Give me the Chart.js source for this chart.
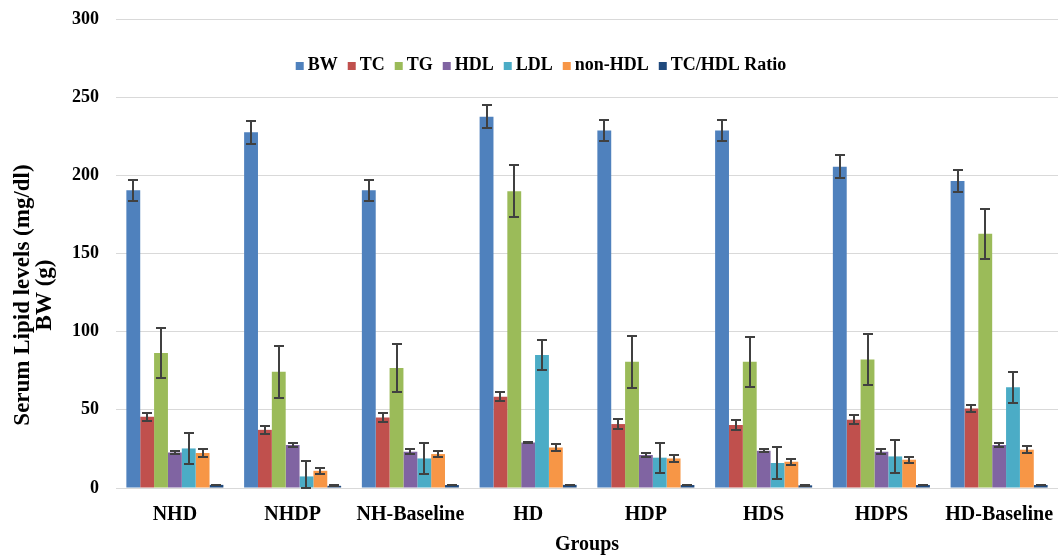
<!DOCTYPE html>
<html>
<head>
<meta charset="utf-8">
<script src="https://cdn.jsdelivr.net/npm/chart.js@4.4.0/dist/chart.umd.min.js"></script>
<style>
  html, body { margin: 0; padding: 0; background: #fff; }
  #wrap { width: 1058px; height: 557px; }
</style>
</head>
<body>
<div id="wrap"><canvas id="chart" width="1058" height="557"></canvas></div>
<script>
// Groups on the x axis
const groups = ['NHD', 'NHDP', 'NH-Baseline', 'HD', 'HDP', 'HDS', 'HDPS', 'HD-Baseline'];

// Means
const bw     = [190.5, 227.5, 190.5, 237.5, 228.7, 228.7, 205.5, 196.3];
const tc     = [45.6, 37.2, 45.1, 58.3, 40.9, 40.3, 43.6, 50.9];
const tg     = [86.4, 74.3, 76.7, 189.8, 80.7, 80.7, 82.2, 162.7];
const hdl    = [22.7, 27.5, 23.2, 29.1, 21.1, 23.8, 23.2, 27.5];
const ldl    = [25.3, 7.4, 18.9, 85.0, 19.4, 16.0, 20.2, 64.5];
const nonHdl = [22.4, 11.0, 21.7, 25.9, 18.9, 16.8, 18.1, 24.5];
const ratio  = [2.0, 1.4, 1.9, 2.0, 1.9, 1.7, 1.9, 1.9];

// Error bar half-lengths (SD)
const bwErr     = [6.8, 7.5, 6.8, 7.5, 6.8, 6.8, 7.5, 7.0];
const tcErr     = [2.6, 2.6, 2.6, 2.8, 3.0, 3.0, 2.8, 2.3];
const tgErr     = [16.0, 16.5, 15.5, 16.6, 16.6, 16.0, 16.6, 16.0];
const hdlErr    = [1.0, 1.0, 1.5, 0.6, 1.5, 1.0, 1.5, 1.0];
const ldlErr    = [10.0, 9.6, 10.0, 9.6, 9.7, 10.4, 10.5, 10.0];
const nonHdlErr = [2.3, 1.8, 2.0, 2.0, 2.2, 1.8, 2.0, 2.3];
const ratioErr  = [0.2, 0.2, 0.2, 0.2, 0.2, 0.2, 0.2, 0.2];

const yTicks = [0, 50, 100, 150, 200, 250, 300];

const FONT = "'Liberation Serif', 'Times New Roman', serif";

// Draws +/- error bars on each bar, through the y scale
const errorBars = {
    id: 'errorBars',
    afterDatasetsDraw(chart) {
        const ctx = chart.ctx;
        const y = chart.scales.y;
        ctx.save();
        ctx.strokeStyle = '#404040';
        ctx.lineWidth = 2;
        chart.data.datasets.forEach((ds, i) => {
            const meta = chart.getDatasetMeta(i);
            if (meta.hidden) return;
            meta.data.forEach((bar, j) => {
                const v = ds.data[j], e = ds.errors[j];
                const top = Math.round(y.getPixelForValue(v + e));
                const bot = Math.round(y.getPixelForValue(Math.max(0, v - e)));
                const x = Math.round(bar.x);
                ctx.beginPath();
                ctx.moveTo(x, top); ctx.lineTo(x, bot);
                ctx.moveTo(x - 5, top); ctx.lineTo(x + 5, top);
                ctx.moveTo(x - 5, bot); ctx.lineTo(x + 5, bot);
                ctx.stroke();
            });
        });
        ctx.restore();
    }
};

// Legend inside the plot, plus the two-line y title
const overlay = {
    id: 'overlay',
    afterDraw(chart) {
        const ctx = chart.ctx;
        ctx.save();
        ctx.font = 'bold 18px ' + FONT;
        ctx.textBaseline = 'middle';
        ctx.textAlign = 'left';
        const box = 8, gapText = 4, gapItem = 10;
        const items = chart.data.datasets.map(ds => ({
            label: ds.label, color: ds.backgroundColor, w: ctx.measureText(ds.label).width
        }));
        const total = items.reduce((s, it) => s + box + gapText + it.w, 0) + gapItem * (items.length - 1);
        let x = 541 - total / 2;
        const cy = 65;
        items.forEach(it => {
            ctx.fillStyle = it.color;
            ctx.fillRect(x, cy - box / 2 + 1, box, box);
            ctx.fillStyle = '#000';
            ctx.fillText(it.label, x + box + gapText, cy);
            x += box + gapText + it.w + gapItem;
        });

        // y axis title
        ctx.font = 'bold 23px ' + FONT;
        ctx.textAlign = 'center';
        ctx.translate(0, 295);
        ctx.rotate(-Math.PI / 2);
        ctx.fillText('Serum Lipid levels (mg/dl)', 0, 23);
        ctx.fillText('BW (g)', 0, 45);
        ctx.restore();
    }
};

const series = [
    { label: 'BW',           data: bw,     errors: bwErr,     color: '#4F81BD' },
    { label: 'TC',           data: tc,     errors: tcErr,     color: '#C0504D' },
    { label: 'TG',           data: tg,     errors: tgErr,     color: '#9BBB59' },
    { label: 'HDL',          data: hdl,    errors: hdlErr,    color: '#8064A2' },
    { label: 'LDL',          data: ldl,    errors: ldlErr,    color: '#4BACC6' },
    { label: 'non-HDL',      data: nonHdl, errors: nonHdlErr, color: '#F79646' },
    { label: 'TC/HDL Ratio', data: ratio,  errors: ratioErr,  color: '#1F497D' }
];

new Chart(document.getElementById('chart'), {
    type: 'bar',
    data: {
        labels: groups,
        datasets: series.map(s => ({
            label: s.label,
            data: s.data,
            errors: s.errors,
            backgroundColor: s.color,
            borderWidth: 0,
            barPercentage: 1,
            categoryPercentage: 0.824
        }))
    },
    options: {
        responsive: false,
        animation: false,
        devicePixelRatio: 1,
        layout: { padding: { top: 19, right: 0, bottom: 0, left: 0 } },
        plugins: {
            legend: { display: false },
            tooltip: { enabled: false }
        },
        scales: {
            x: {
                grid: { display: false },
                border: { display: false },
                ticks: {
                    color: '#000',
                    padding: 7,
                    maxRotation: 0,
                    autoSkip: false,
                    font: { family: FONT, size: 20, weight: 'bold' }
                },
                title: {
                    display: true,
                    text: 'Groups',
                    color: '#000',
                    padding: { top: 0, bottom: 0 },
                    font: { family: FONT, size: 20, weight: 'bold' }
                },
                afterFit(scale) {
                    scale.height = 69;
                    scale.paddingLeft = 0;
                    scale.paddingRight = 0;
                }
            },
            y: {
                min: 0,
                max: 300,
                afterBuildTicks(scale) { scale.ticks = yTicks.map(v => ({ value: v })); },
                grid: { color: '#d9d9d9', lineWidth: 1, drawTicks: false },
                border: { display: false },
                ticks: {
                    color: '#000',
                    padding: 17,
                    font: { family: FONT, size: 18, weight: 'bold' }
                },
                afterFit(scale) {
                    scale.width = 116;
                    scale.paddingTop = 0;
                    scale.paddingBottom = 0;
                }
            }
        }
    },
    plugins: [errorBars, overlay]
});
</script>
</body>
</html>
